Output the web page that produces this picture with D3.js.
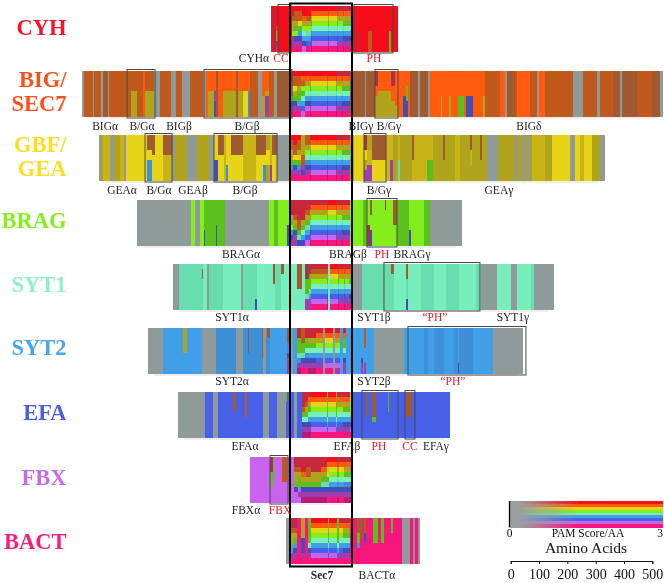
<!DOCTYPE html>
<html><head><meta charset="utf-8">
<script src="https://cdn.jsdelivr.net/npm/d3@7"></script>
<style>html,body{margin:0;padding:0;background:#fff}svg{display:block}text{font-family:"Liberation Serif",serif}</style>
</head><body><svg id="c" width="664" height="583"></svg>
<script>
// Residue scale: a length of 1 below is one alignment window of 3.53 amino acids.
const FULL="roygabepm", DULL="ROYGABEPM", BR="RoYgabePm", HI="RoYGabEPm";
const coreMid=[[1,DULL],[16,FULL],[1,DULL],[8,FULL],[1,DULL],[5,BR],[1,DULL],[7,HI]];

const familyNames=["CYH","BIG/\nSEC7","GBF/\nGEA","BRAG","SYT1","SYT2","EFA","FBX","BACT"];
const rowStarts=[-20,-209,-192,-154,-118,-143,-113,-41,-5];

const segCYH=[[2,"D"],[3,"r"],[2,"rrrrOGGEP"],[14,"r"],
 [2,"rrOYYgPPm"],[4,"rOOYGgEPm"],[4,"rOOyGbEPm"],[4,"rroYgabEp"],[5,"rrOYgAbem"],...coreMid,[2,"r"],
 [6,"r"],[1,"rrrrrDDDD"],[8,"r"],[4,"rrrrrOOOO"],[17,"r"],[2,"rrrrrGGGG"],[7,"r"]];

const segBIG=[[2,"x"],[9,"O"],[1,"x"],[7,"O"],[2,"x"],[5,"n"],[1,"x"],[18,"O"],
 [4,"O"],[6,"OOOOYYYYY"],[6,"O"],[2,"o"],[9,"OOOOYYYYY"],[6,"x"],[11,"O"],[5,"x"],[6,"O"],[8,"x"],[13,"O"],[3,"x"],
 [2,"o"],[6,"ooooYYYYY"],[2,"ooooPPEEE"],[2,"n"],[5,"o"],[13,"ooooYYYYY"],[2,"n"],[5,"ooooYYYYY"],[5,"ooooyyyyy"],[2,"ooooBBBBB"],[8,"O"],[4,"x"],
 [3,"oooooYYYY"],[4,"ooooYPPPP"],[5,"O"],[3,"x"],[11,"n"],[3,"nnnnnnPPP"],
 [2,"RROYGgEPm"],[4,"rOOyYGEPm"],[4,"rOOYGGbPm"],[4,"roOgGabep"],[5,"roYgabEpm"],...coreMid,[2,"n"],
 [13,"n"],[1,"x"],[9,"n"],[3,"DDDooYYYY"],[13,"ooooYYYYY"],[4,"DDDoooYYY"],[3,"oooooooYY"],[5,"o"],[3,"oooooEEEE"],[2,"oooGGGEEE"],[2,"o"],
 [8,"n"],[2,"x"],[8,"n"],[2,"x"],[11,"o"],[1,"oooooYYYY"],[7,"o"],[2,"oooooYYYY"],[7,"o"],[6,"oooooGGGG"],[2,"o"],[7,"oooooEEEE"],[10,"o"],[2,"oooooYYYY"],
 [15,"O"],[5,"o"],[2,"x"],[8,"n"],[2,"O"],[13,"o"],[7,"O"],[2,"x"],[6,"o"],[28,"O"],[10,"x"],[14,"O"],[3,"x"],[13,"O"],[7,"n"],[2,"x"],[15,"n"],[15,"O"],[8,"n"],[3,"x"]];

const segGBF=[[2,"x"],[2,"Y"],[7,"w"],[4,"x"],[6,"Y"],[4,"w"],[2,"x"],[19,"y"],
 [2,"y"],[5,"nnnyyBBBB"],[3,"nnnnyyyyy"],[8,"y"],[9,"nnnnwwwww"],[3,"x"],[12,"Y"],[10,"x"],[12,"Y"],[5,"x"],
 [4,"yyyyyEEEE"],[6,"nnnnyyyyy"],[2,"w"],[2,"yyyyyyBBB"],[3,"y"],[12,"nnnnyyyyy"],[13,"w"],[7,"nnnnyyyyy"],[3,"nnnnyyBBB"],[4,"YYYyyyYYY"],[2,"wwwwwwPPP"],[5,"nnnnyyyyy"],[11,"x"],[3,"Y"],
 [2,"rOOYYGBPm"],[4,"rrOOyGEPm"],[4,"rOOYyGBPm"],[4,"YYYYOOPEm"],[5,"OOYgaBEPm"],...coreMid,[2,"Y"],
 [2,"Y"],[10,"y"],[3,"DDDyyYYPP"],[5,"YYYwwwPPP"],[14,"nnnnnyyyy"],[4,"w"],[3,"wwwwwPPPP"],[5,"Y"],[2,"wwwwwAAAA"],[12,"Y"],[2,"nnnnnwwww"],[13,"w"],[6,"wwwwwGGGG"],[10,"Y"],[2,"nnnnnYYYY"],[10,"Y"],[5,"w"],[10,"Y"],[2,"nnnwwwYYY"],[8,"Y"],[2,"nnnnnYYYY"],[5,"Y"],
 [11,"x"],[17,"Y"],[3,"x"],[4,"Y"],[3,"x"],[2,"Y"],[3,"x"],[2,"Y"],[13,"w"],[7,"Y"],[18,"y"],[5,"x"],[5,"y"],[4,"w"],[8,"y"],[8,"Y"],[5,"x"]];

const segBRAG=[[54,"x"],[4,"g"],[5,"x"],[4,"g"],[1,"GGGGGGEEE"],[11,"G"],[1,"GGGGGEEEE"],[8,"G"],[44,"x"],[5,"g"],[4,"G"],[9,"g"],[2,"gggggEEEE"],[2,"g"],
 [2,"RRRYGgBEP"],[4,"RRROYGEPP"],[4,"RRRROOGAE"],[4,"RRRRYGabE"],[5,"RROYGAbep"],[1,DULL],[16,"RoYgabepm"],[1,DULL],[8,FULL],[1,DULL],[5,BR],[1,DULL],[7,HI],[2,"g"],
 [11,"g"],[4,"G"],[3,"gggggDDDD"],[2,"nnngggEEE"],[13,"g"],[1,"DDggggggg"],[7,"g"],[4,"nnnnngggg"],[12,"G"],[2,"ggggggEEE"],[13,"g"],[6,"G"],[32,"x"]];

const segSYT1=[[6,"x"],[23,"A"],[1,"AnnAAAAAA"],[4,"a"],[2,"x"],[14,"A"],[18,"a"],[2,"x"],[12,"A"],[2,"AAAAAAAEE"],[16,"a"],[2,"nnnnaaaaa"],[6,"A"],[3,"nnaaaaaaa"],[7,"a"],
 [6,"a"],[5,"nnnnnaaaa"],[3,"a"],[4,"DDDGGGAPP"],[2,"DDGGGAbPP"],[16,"ROYgabepm"],[1,DULL],[2,"a"],[8,FULL],[1,DULL],[5,BR],[1,DULL],[4,BR],[3,HI],[2,"x"],
 [2,"x"],[6,"x"],[23,"A"],[6,"A"],[3,"nnAAAAAAA"],[12,"a"],[2,"nnnAAAAEE"],[13,"a"],[13,"A"],[12,"a"],[13,"A"],[17,"a"],[5,"A"],[16,"x"],[14,"a"],[6,"x"],[14,"a"],[3,"A"],[20,"x"]];

const segSYT2=[[15,"x"],[20,"b"],[4,"YYYYYbbbb"],[15,"b"],[14,"x"],[20,"B"],[7,"x"],[5,"B"],[1,"nnnnnBBBB"],[13,"B"],[1,"nnnnnnBBB"],[3,"x"],[1,"B"],[3,"nnBBBBBBB"],[17,"b"],
 [3,"nnnBBEPPP"],[3,"x"],[4,"b"],[4,"RRGGGABPM"],[4,"OOOGGAEPm"],[3,"RRGGaBEPm"],[8,"RRYGabEPM"],[7,BR],[2,"x"],[8,FULL],[2,"x"],[5,"RoYgabepP"],[3,"b"],[3,"RoGGabEPP"],[2,"b"],
 [13,"b"],[2,"bbbbbbEPP"],[1,"b"],[2,"OOOObbbPP"],[8,"b"],[30,"x"],[20,"b"],[4,"B"],[6,"b"],[10,"B"],[10,"b"],[4,"B"],[1,"bbbbbbbEE"],[12,"B"],[2,"B"],[20,"b"],[30,"x"]];

const segEFA=[[27,"x"],[8,"e"],[5,"x"],[12,"e"],[3,"e"],[3,"nnnneeeee"],[9,"e"],[2,"OOOOOeeee"],[16,"e"],[6,"x"],[8,"e"],[9,"x"],[1,"GGeeeeeee"],[4,"e"],
 [3,"e"],[3,"x"],[5,"e"],[3,"RRROGaEPM"],[3,"RROYGaEPM"],[3,"RoYGabEPM"],[16,FULL],[1,"GGGGGabem"],[8,FULL],[1,"GGGGGabem"],[6,BR],[7,HI],[1,"gggggbepm"],[2,"e"],
 [10,"e"],[3,"e"],[2,"nnnnneeee"],[4,"e"],[4,"nnnnnGeee"],[12,"e"],[1,"GGGGeeeee"],[17,"e"],[6,"nnnnneeee"],[5,"e"],[11,"e"],[13,"e"],[9,"e"]];

const segFBX=[[20,"p"],[3,"DDDGGGppp"],[1,"GGGGppppp"],[8,"p"],[5,"OOOOOpppp"],[4,"p"],
 [3,"p"],[4,"RROYYGEpp"],[3,"RROYGGpPp"],[5,"RRRoYGEPM"],[5,"RROOYGEPM"],[10,"RRRYYGEPM"],[6,"RRoYGAEPM"],[2,"rogyGAEPm"],[8,"roygabEPm"],[2,DULL],[5,"RoygabEPm"],[7,"RoYGaBEPM"]];

const segBACT=[[5,"x"],[2,"RROYYGbPm"],[4,"DDOYGbEPm"],[4,"m"],[4,"YYYYEEEPm"],[3,"m"],[3,"GGGGGaEPm"],[17,FULL],[1,"GGGGGabem"],[8,FULL],[2,"GGGGGabem"],[4,"RoygabePm"],[7,HI],[2,"m"],
 [5,"m"],[3,"nnnGGBmmm"],[3,"nnnnmmmmm"],[1,"m"],[2,"OOOEEmmmm"],[7,"m"],[5,"GGGGGmmmm"],[3,"m"],[3,"GGGGGmmmm"],[7,"m"],[2,"GGGmmmmmm"],[9,"m"],[8,"x"],[3,"m"],[2,"x"],[3,"m"],[2,"x"]];

const rowSegments=[segCYH,segBIG,segGBF,segBRAG,segSYT1,segSYT2,segEFA,segFBX,segBACT];

// Domain boxes: family index, start relative to Sec7, length.
const domainRows=[0,0,1,1,1,2,2,2,3,4,5,6,6,7];
const domainStarts=[-13,63,-164,-87,84,-146,-77,73,76,93,117,71,114,-21];
const domainLengths=[13,39,28,88,23,27,63,22,30,96,118,36,10,18];

const rowLabels=["CYHα","CC","PH","BIGα","B/Gα","BIGβ","B/Gβ","BIGγ","B/Gγ","BIGδ","GEAα","B/Gα","GEAβ","B/Gβ","B/Gγ","GEAγ","BRAGα","BRAGβ","PH","BRAGγ","SYT1α","SYT1β","“PH”","SYT1γ","SYT2α","SYT2β","“PH”","EFAα","EFAβ","PH","CC","EFAγ","FBXα","FBX","Sec7","BACTα"];
const labelRows=[0,0,0,1,1,1,1,1,1,1,2,2,2,2,2,2,3,3,3,3,4,4,4,4,5,5,5,6,6,6,6,6,7,7,8,8];
const labelCenters=[-37,-10,83,-186,-149,-112,-44,70,98,238,-169,-132,-98,-46,88,208,-50,57,91,121,-59,83,144,222,-59,83,162,-46,56,88,119,145,-45,-11,31,86];
const redLabels=["CC","PH","“PH”","FBX"];

const PAM_TICKS=[0,100,200,300,400,500];
const bandOrder=FULL.split("");

// --- styling / layout ---
const WINDOW_AA=3.53;
const palette={r:"#f5101e",o:"#ff5a0c",y:"#e8d412",g:"#84ee1a",a:"#78eebc",b:"#3f9fe6",e:"#4760e8",p:"#c864ee",m:"#f8147c",
 R:"#c8283a",O:"#c05a1e",Y:"#b0a41a",G:"#5cc01a",A:"#68deb0",B:"#3a90d8",E:"#4050b8",P:"#a03cb0",M:"#b81e78",
 n:"#a05a30",D:"#a83048",w:"#c8b414",x:"#8f9a9a"};
const titleColors=["#f5142a","#ff4f1a","#ffdc1e","#84f01e","#8ff0c8","#4aa5e8","#4a5fe0","#c86be8","#ff1a7a"];
const rowTops=[6,71,135,200,264,328,392,457,518], rowH=45.5;
const titleBase=[[35],[87,110.5],[152,175.5],[228],[292],[355],[420],[485],[549]];
const labelBase=[62,130,194,258,321,385,450,514,579];

const svg=d3.select("#c");
const x=d3.scaleLinear().domain([0,500]).range([291,291+141.6]);
const xw=w=>x(w*WINDOW_AA);
const bandY=d3.scaleLinear().domain([0,9]).range([0,rowH]);

const defs=svg.append("defs");
const filt=defs.append("filter").attr("id","soft");
filt.attr("filterUnits","userSpaceOnUse").attr("x",0).attr("y",0).attr("width",664).attr("height",583);
filt.append("feGaussianBlur").attr("stdDeviation",0.5);

// merge neighbouring equal bands of one column into a single run
function runsOf(codes){
  const s=codes.length===1?codes.repeat(9):codes, out=[];
  for(let i=0;i<9;i++){
    if(out.length&&out[out.length-1].code===s[i]) out[out.length-1].to=i+1;
    else out.push({code:s[i],from:i,to:i+1});
  }
  return out;
}

const marks=svg.append("g").attr("filter","url(#soft)");
rowSegments.forEach((segs,r)=>{
  const g=marks.append("g").attr("transform",`translate(0,${rowTops[r]})`);
  let pos=rowStarts[r];
  const cols=segs.map(([len,codes])=>{const c={start:pos,len,runs:runsOf(codes)};pos+=len;return c;});
  g.selectAll("g").data(cols).join("g").selectAll("rect")
    .data(d=>d.runs.map(q=>({...q,start:d.start,len:d.len}))).join("rect")
    .attr("shape-rendering","crispEdges")
    .attr("x",d=>xw(d.start)).attr("width",d=>xw(d.start+d.len)-xw(d.start)+0.5)
    .attr("y",d=>bandY(d.from)).attr("height",d=>bandY(d.to)-bandY(d.from)+0.5)
    .attr("fill",d=>palette[d.code]);
  g.append("line").attr("x1",xw(rowStarts[r])+6).attr("x2",xw(pos)-6).attr("y1",rowH+1.5).attr("y2",rowH+1.5).attr("stroke","#ddd");
});

// domain boxes
domainRows.forEach((r,i)=>{
  svg.append("rect").attr("x",xw(domainStarts[i])).attr("width",xw(domainStarts[i]+domainLengths[i])-xw(domainStarts[i]))
    .attr("y",rowTops[r]-1.5).attr("height",rowH+3).attr("fill","none").attr("stroke","#4a4a4a").attr("stroke-width",1);
});

// Sec7 box
svg.append("rect").attr("x",xw(-1)).attr("width",xw(61)-xw(-1)).attr("y",3.5).attr("height",563)
  .attr("fill","none").attr("stroke","#000").attr("stroke-width",2);

// family titles
familyNames.forEach((n,r)=>{
  n.split("\n").forEach((line,k)=>{
    svg.append("text").text(line).attr("x",66.5).attr("y",titleBase[r][k]).attr("text-anchor","end")
      .attr("font-size",22.5).attr("font-weight","bold").attr("fill",titleColors[r]);
  });
});

// row labels
rowLabels.forEach((t,i)=>{
  const isRed=redLabels.includes(t);
  svg.append("text").text(t).attr("x",xw(labelCenters[i])).attr("y",labelBase[labelRows[i]]).attr("text-anchor","middle")
    .attr("font-size",11.5).attr("font-weight",t==="Sec7"?"bold":null).attr("fill",isRed?"#f01828":"#222");
});

// legend
const lx0=509,lx1=663,ly0=501,ly1=527;
const lband=d3.scaleBand().domain(bandOrder).range([ly0,ly1]);
bandOrder.forEach((c,i)=>{
  const gr=defs.append("linearGradient").attr("id","lg"+i);
  gr.append("stop").attr("offset","0").attr("stop-color","#9aa0a0");
  gr.append("stop").attr("offset","0.06").attr("stop-color","#9aa0a0");
  gr.append("stop").attr("offset","0.45").attr("stop-color",palette[c]);
  gr.append("stop").attr("offset","1").attr("stop-color",palette[c]);
  marks.append("rect").attr("x",lx0).attr("width",lx1-lx0).attr("y",lband(c)).attr("height",lband.bandwidth()+0.5).attr("fill",`url(#lg${i})`).attr("shape-rendering","crispEdges");
});
svg.append("line").attr("x1",lx0+0.5).attr("x2",lx0+0.5).attr("y1",ly0).attr("y2",ly1).attr("stroke","#000").attr("stroke-width",1.3);
const lt=(t,xp,yp,fs,a)=>svg.append("text").text(t).attr("x",xp).attr("y",yp).attr("font-size",fs).attr("text-anchor",a||"middle").attr("fill","#111");
lt("0",509.5,537,11.5);lt("3",660,537,11.5);lt("PAM Score/AA",588,537,11.5);lt("Amino Acids",586,553,15.5);

const ax=d3.scaleLinear().domain([0,500]).range([510.7,652.3]);
const axG=svg.append("g").attr("transform","translate(0,561)")
  .call(d3.axisBottom(ax).tickValues(PAM_TICKS).tickSize(3).tickSizeOuter(3).tickPadding(5));
axG.selectAll("text").attr("font-size",14).attr("font-family","Liberation Serif").attr("fill","#111");
axG.selectAll("line,path").attr("stroke","#111");
</script></body></html>
